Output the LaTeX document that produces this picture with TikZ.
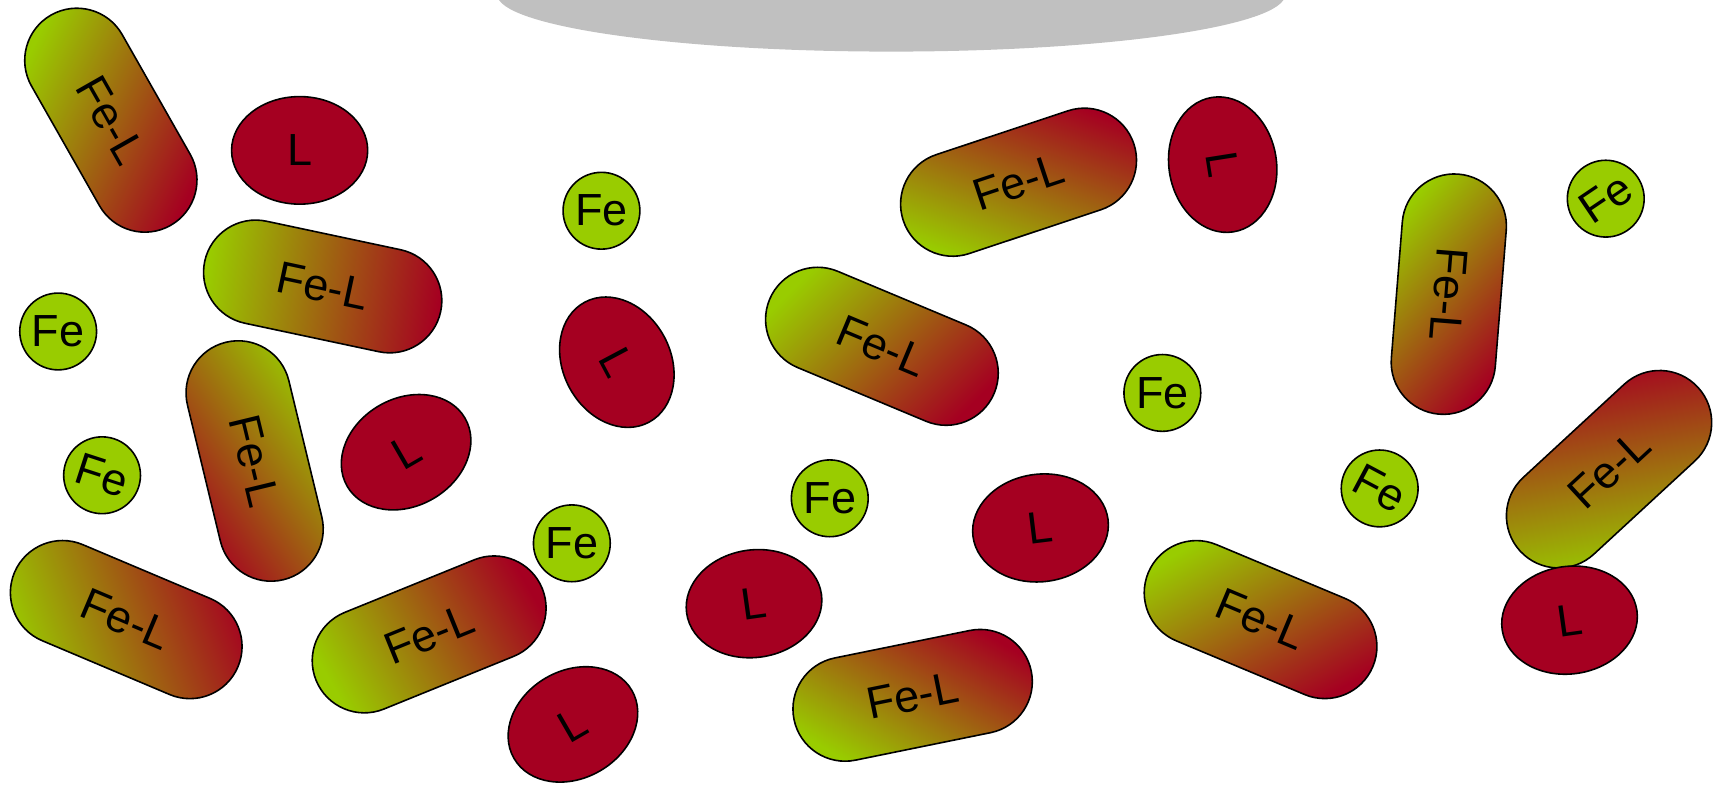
\documentclass[tikz,border=0pt]{standalone}
\usepackage{fontspec}
\setmainfont{Liberation Sans}
\definecolor{feg}{HTML}{99CC00}
\definecolor{lred}{HTML}{A50021}
\definecolor{cellgray}{HTML}{C0C0C0}

\tikzset{
  outline/.style={draw=black, line width=1.6pt},
  lbl/.style={font=\fontsize{45}{54}\selectfont, inner sep=0pt},
  ironbead/.style={lbl, circle, outline, fill=feg, minimum size=76.8pt},
}

% Fe-L complex: name, x, y, axis angle, half length, gradient direction (green to red), text angle
\newcommand\complexcap[7]{%
  \pgfmathsetmacro\capshade{#6+90}%
  \begin{scope}[shift={(#2,#3)}, x=1.0976pt, y=1.0976pt, rotate=#4]
    \shade[outline, left color=feg, right color=lred, shading angle=\capshade]
      (-#5,-47.5) -- (#5,-47.5) arc[start angle=-90, end angle=90, radius=47.5]
      -- (-#5,47.5) arc[start angle=90, end angle=270, radius=47.5] -- cycle;
  \end{scope}
  \node[lbl, rotate=#7] (#1) at (#2,#3) {Fe-L};
}

% free ligand: name, x, y, angle
\newcommand\ligand[4]{%
  \begin{scope}[shift={(#2,#3)}, x=1.0976pt, y=1.0976pt, rotate=#4]
    \draw[outline, fill=lred] (0,0) ellipse[x radius=62, y radius=49];
  \end{scope}
  \node[lbl, rotate=#4] (#1) at (#2,#3) {L};
}

% free iron: name, x, y, angle
\newcommand\ironion[4]{%
  \node[ironbead, rotate=#4] (#1) at (#2,#3) {Fe};
}

\begin{document}
\begin{tikzpicture}[x=1.0976pt, y=-1.0976pt]
  \useasboundingbox (0,0) rectangle (1568,715);
  \clip (0,0) rectangle (1568,715);

  % cell at the top
  \fill[cellgray] (812,-5) ellipse[x radius=359, y radius=52];

  % Fe-L complexes
  \complexcap{ca}{101}{109.5}{-60.4}{62.7}{-25}{-60.4}
  \complexcap{cb}{294}{261}{-12}{62.4}{-8}{-12}
  \complexcap{cc}{232}{420}{-76.4}{63.8}{215}{-76.4}
  \complexcap{cd}{115}{564.5}{-22.9}{63}{20}{-22.9}
  \complexcap{ce}{391}{578}{22.1}{63.7}{30}{22.1}
  \complexcap{cf}{928}{166}{18.4}{63.2}{70}{18.4}
  \complexcap{cg}{803.5}{315.5}{-22.7}{63.4}{-45}{-22.7}
  \complexcap{ch}{831.5}{633.5}{11.5}{62.8}{60}{11.5}
  \complexcap{ci}{1148.5}{564.5}{-22.7}{63.4}{-60}{-22.7}
  \complexcap{cj}{1320}{268}{-94.6}{62.2}{-40}{-94.6}
  \complexcap{ck}{1466}{427.5}{42.7}{62.6}{100}{42.7}

  % free ligands
  \ligand{la}{273}{137}{0}
  \ligand{lb}{1114}{150}{-81}
  \ligand{lc}{562}{330}{-62}
  \ligand{ld}{370}{412}{30}
  \ligand{le}{522}{660}{30}
  \ligand{lf}{687}{550}{8}
  \ligand{lg}{948}{481}{7}
  \ligand{lh}{1430}{565}{8}

  % free iron
  \ironion{fa}{548}{192}{0}
  \ironion{fb}{53}{302}{0}
  \ironion{fc}{93}{433}{-18}
  \ironion{fd}{521}{495}{0}
  \ironion{fe}{756}{454}{0}
  \ironion{ff}{1059}{358}{0}
  \ironion{fg}{1463}{181}{34}
  \ironion{fh}{1257}{445}{-28}
\end{tikzpicture}
\end{document}
